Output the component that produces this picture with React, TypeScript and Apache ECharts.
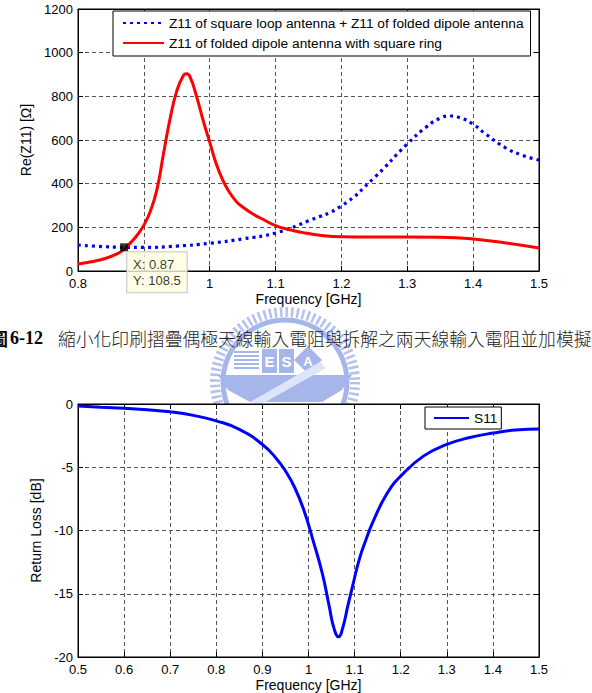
import React, { useEffect, useRef } from "react";
import * as echarts from "echarts";

// ---- Top chart: Re(Z11) ----
const redName = "Z11 of folded dipole antenna with square ring";
const blueName = "Z11 of square loop antenna + Z11 of folded dipole antenna";
const freqRed = [0.80, 0.82, 0.84, 0.86, 0.87, 0.88, 0.89, 0.90, 0.91, 0.92, 0.93, 0.94, 0.95, 0.96, 0.965, 0.97, 0.98, 0.99, 1.00, 1.01, 1.02, 1.03, 1.04, 1.05, 1.065, 1.08, 1.10, 1.12, 1.14, 1.17, 1.20, 1.25, 1.30, 1.35, 1.40, 1.45, 1.50];
const red = [32, 42, 56, 80, 100, 130, 165, 210, 275, 375, 540, 700, 825, 895, 903, 890, 800, 690, 590, 490, 415, 360, 320, 293, 262, 238, 208, 190, 177, 163, 157, 156, 156, 155, 147, 128, 105];
const freqBlue = [0.80, 0.83, 0.87, 0.90, 0.95, 1.00, 1.05, 1.10, 1.15, 1.20, 1.25, 1.30, 1.33, 1.35, 1.365, 1.38, 1.40, 1.42, 1.45, 1.475, 1.50];
const blue = [119, 113, 108.5, 108, 114, 127, 147, 174, 230, 298, 428, 582, 662, 700, 710, 702, 672, 625, 563, 530, 508];
const markerX = 0.87;
const markerY = 108.5;

// ---- Bottom chart: S11 ----
const sFreq = [0.50, 0.55, 0.60, 0.65, 0.70, 0.75, 0.80, 0.85, 0.90, 0.93, 0.95, 0.97, 0.99, 1.01, 1.03, 1.045, 1.055, 1.065, 1.075, 1.085, 1.095, 1.11, 1.125, 1.14, 1.17, 1.20, 1.25, 1.30, 1.35, 1.40, 1.45, 1.50];
const s11 = [-0.16, -0.25, -0.34, -0.45, -0.62, -0.9, -1.33, -2.0, -3.2, -4.3, -5.3, -6.6, -8.4, -10.8, -13.4, -16.0, -17.7, -18.4, -17.6, -16.0, -14.5, -12.3, -10.7, -9.3, -7.1, -5.7, -4.1, -3.2, -2.65, -2.3, -2.05, -1.98];

const hiddenTopTick = 0.9; // covered by the data tip in the reference
const captionHead = "圖";
const captionFig = "6-12";
const captionText = "縮小化印刷摺疊偶極天線輸入電阻與拆解之兩天線輸入電阻並加模擬";

const FONT = "'Liberation Sans', Arial, sans-serif";
const zip = (xs: number[], ys: number[]) => xs.map((x, i) => [x, ys[i]]);

const splitLine = { show: true, lineStyle: { color: "#555", type: [4, 3] as any, width: 1 } };
const axisLine = { show: true, onZero: false, lineStyle: { color: "#000", width: 1 } };
const tick = { show: true, inside: true, length: 5, lineStyle: { color: "#000" } };
const lbl = { color: "#000", fontSize: 13, fontFamily: FONT };
const nameStyle = { color: "#000", fontSize: 14, fontFamily: FONT };

function xAx(grid: number, min: number, max: number, hide?: number) {
  return [
    {
      type: "value", gridIndex: grid, min, max, interval: 0.1, position: "bottom",
      axisLine, axisTick: tick, splitLine,
      axisLabel: {
        ...lbl, margin: 6,
        formatter: (v: number) => (hide !== undefined && Math.abs(v - hide) < 1e-6 ? "" : String(+v.toFixed(2))),
      },
      name: "Frequency [GHz]", nameLocation: "middle", nameGap: 21, nameTextStyle: nameStyle,
    },
    {
      type: "value", gridIndex: grid, min, max, interval: 0.1, position: "top",
      axisLine, axisTick: tick, splitLine: { show: false }, axisLabel: { show: false },
    },
  ];
}
function yAx(grid: number, min: number, max: number, interval: number, name: string, gap: number) {
  return [
    {
      type: "value", gridIndex: grid, min, max, interval, position: "left",
      axisLine, axisTick: tick, splitLine,
      axisLabel: { ...lbl, margin: 5, formatter: (v: number) => String(v) },
      name, nameLocation: "middle", nameGap: gap, nameTextStyle: nameStyle,
    },
    {
      type: "value", gridIndex: grid, min, max, interval, position: "right",
      axisLine, axisTick: tick, splitLine: { show: false }, axisLabel: { show: false },
    },
  ];
}

const WM = "#a6b5ea";
const WM2 = "#b4c1ee";
const cx = 285, cy = 382;
const watermark = [
  { type: "circle", z: -20, shape: { cx, cy, r: 70 }, style: { fill: "none", stroke: WM2, lineWidth: 10, lineDash: [2.5, 3] } },
  { type: "circle", z: -20, shape: { cx, cy, r: 62 }, style: { fill: "none", stroke: WM, lineWidth: 5 } },
  ...[352, 356, 360, 364, 368].map((y) => ({ type: "line", z: -20, shape: { x1: 234, y1: y, x2: 259, y2: y }, style: { stroke: WM, lineWidth: 2 } })),
  { type: "rect", z: -20, shape: { x: 262, y: 349, width: 15, height: 24 }, style: { fill: WM } },
  { type: "rect", z: -20, shape: { x: 279, y: 349, width: 15, height: 24 }, style: { fill: WM } },
  { type: "text", z: -19, x: 269.5, y: 361, style: { text: "E", fill: "#fff", font: `bold 15px ${FONT}`, align: "center", verticalAlign: "middle" } },
  { type: "text", z: -19, x: 286.5, y: 361, style: { text: "S", fill: "#fff", font: `bold 15px ${FONT}`, align: "center", verticalAlign: "middle" } },
  { type: "polygon", z: -20, shape: { points: [[308, 346], [322, 360], [308, 374], [294, 360]] }, style: { fill: WM } },
  { type: "text", z: -19, x: 308, y: 361, style: { text: "A", fill: "#fff", font: `bold 13px ${FONT}`, align: "center", verticalAlign: "middle" } },
  { type: "polygon", z: -20, shape: { points: [[218, 375], [352, 375], [342, 390], [322, 402], [250, 402], [228, 390]] }, style: { fill: WM } },
  { type: "polygon", z: -19, shape: { points: [[250, 402], [320, 362], [326, 368], [262, 404]] }, style: { fill: "#dfe5f8" } },
];

export default function App() {
  const ref = useRef<HTMLDivElement>(null);
  useEffect(() => {
    if (!ref.current) return;
    const chart = echarts.init(ref.current, null, { renderer: "svg" });
    chart.setOption({
      animation: false,
      backgroundColor: "#fff",
      grid: [
        { left: 78, top: 9, width: 461, height: 262, show: true, backgroundColor: "#fff", borderColor: "#000", borderWidth: 1 },
        { left: 78, top: 404, width: 461, height: 255, show: true, backgroundColor: "#fff", borderColor: "#000", borderWidth: 1 },
      ],
      xAxis: [...xAx(0, 0.8, 1.5, hiddenTopTick), ...xAx(1, 0.5, 1.5)],
      yAxis: [...yAx(0, 0, 1200, 200, "Re(Z11) [Ω]", 42), ...yAx(1, -20, 0, 5, "Return Loss [dB]", 32)],
      legend: [
        {
          data: [blueName, redName], orient: "vertical", left: 113, top: 11,
          padding: [5, 7, 6, 9], itemWidth: 41, itemHeight: 14, itemGap: 6,
          borderColor: "#000", borderWidth: 1, backgroundColor: "#fff", borderRadius: 0,
          itemStyle: { opacity: 0 },
          textStyle: { color: "#000", fontSize: 13.7, fontFamily: FONT }, selectedMode: false,
        },
        {
          data: ["S11"], orient: "vertical", left: 425, top: 407,
          padding: [4, 4, 4, 8], itemWidth: 35, itemHeight: 14,
          borderColor: "#000", borderWidth: 1, backgroundColor: "#fff", borderRadius: 0,
          itemStyle: { opacity: 0 },
          textStyle: { color: "#000", fontSize: 13.7, fontFamily: FONT }, selectedMode: false,
        },
      ],
      series: [
        {
          name: blueName, type: "line", xAxisIndex: 0, yAxisIndex: 0, data: zip(freqBlue, blue),
          symbol: "none", smooth: 0.5,
          lineStyle: { color: "#0000ee", width: 3.2, type: [3, 4], cap: "butt" }, itemStyle: { color: "#0000ee" },
        },
        {
          name: redName, type: "line", xAxisIndex: 0, yAxisIndex: 0, data: zip(freqRed, red),
          symbol: "none", smooth: 0.5,
          lineStyle: { color: "#ff0000", width: 3 }, itemStyle: { color: "#ff0000" },
        },
        {
          name: "marker", type: "scatter", xAxisIndex: 0, yAxisIndex: 0, z: 10,
          data: [[markerX, markerY]], symbol: "rect", symbolSize: 8, itemStyle: { color: "#000" },
          label: {
            show: true, position: [7, 9], align: "left", verticalAlign: "top",
            formatter: `X: ${markerX}\nY: ${markerY}`,
            color: "#000", fontSize: 13, fontFamily: FONT, lineHeight: 16,
            backgroundColor: "#ffffe1", borderColor: "#bdbdbd", borderWidth: 1, padding: [4, 6, 4, 6],
          },
        },
        {
          name: "S11", type: "line", xAxisIndex: 2, yAxisIndex: 2, data: zip(sFreq, s11),
          symbol: "none", smooth: 0.5,
          lineStyle: { color: "#0000ff", width: 3 }, itemStyle: { color: "#0000ff" },
        },
      ],
      graphic: [
        ...watermark,
        { type: "text", z: 50, x: -10, y: 338, style: { text: captionHead, fill: "#000", font: "bold 18px 'Noto Sans CJK TC'", verticalAlign: "middle" } },
        { type: "text", z: 50, x: 10, y: 338, style: { text: captionFig, fill: "#000", font: "bold 18px 'Liberation Serif', serif", verticalAlign: "middle" } },
        { type: "text", z: 50, x: 58, y: 338, style: { text: captionText, fill: "#222", font: "300 17.8px 'Noto Sans CJK TC'", verticalAlign: "middle" } },
      ],
    });
    return () => chart.dispose();
  }, []);
  return <div ref={ref} style={{ position: "absolute", left: 0, top: 0, width: 592, height: 693 }} />;
}
